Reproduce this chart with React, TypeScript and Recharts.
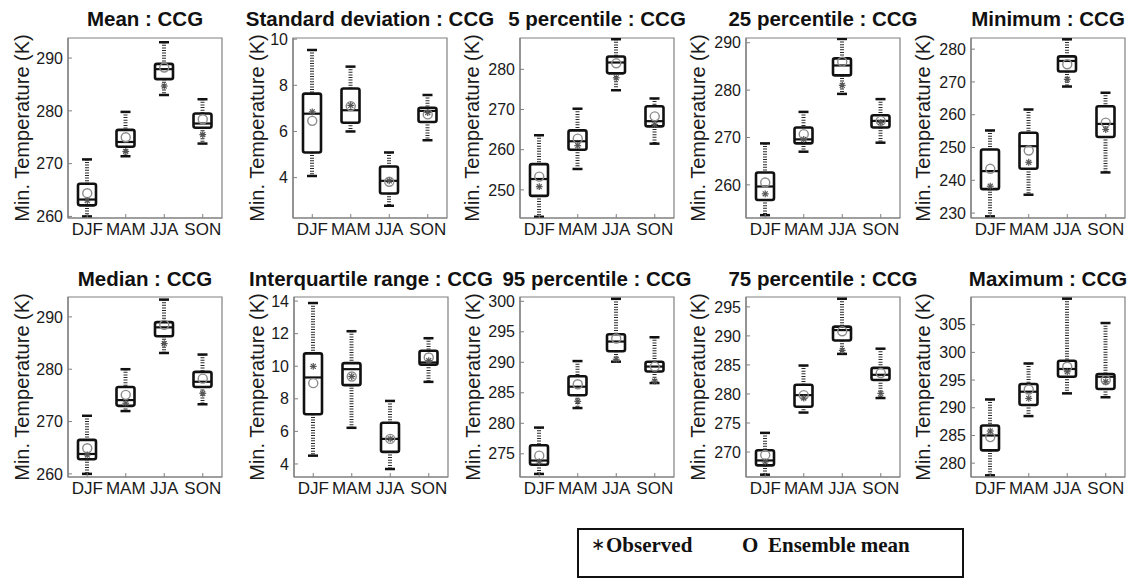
import React from "react";
import { ComposedChart, Bar, Line, XAxis, YAxis, ReferenceArea } from "recharts";

const seasons = ["DJF", "MAM", "JJA", "SON"];

// ---- Mean : CCG
const meanLow = [260.0, 271.4, 283.0, 273.8];
const meanQ1 = [262.1, 273.2, 286.0, 276.8];
const meanMed = [263.2, 274.1, 287.9, 277.6];
const meanQ3 = [266.2, 276.4, 288.9, 279.5];
const meanHigh = [270.8, 279.8, 293.0, 282.2];
const meanEns = [264.4, 275.0, 288.2, 278.4];
const meanObs = [263.0, 272.3, 284.7, 275.5];

// ---- Standard deviation : CCG
const sdLow = [4.07, 6.0, 2.78, 5.62];
const sdQ1 = [5.09, 6.38, 3.31, 6.41];
const sdMed = [6.77, 6.92, 3.86, 6.89];
const sdQ3 = [7.64, 7.86, 4.48, 7.03];
const sdHigh = [9.53, 8.81, 5.09, 7.58];
const sdEns = [6.46, 7.1, 3.82, 6.74];
const sdObs = [6.85, 7.13, 3.86, 6.82];

// ---- 5 percentile : CCG
const p5Low = [243.3, 255.2, 274.8, 261.5];
const p5Q1 = [248.5, 260.0, 279.0, 265.8];
const p5Med = [252.7, 262.1, 281.7, 267.1];
const p5Q3 = [256.4, 264.8, 283.2, 270.8];
const p5High = [263.6, 270.2, 287.5, 272.75];
const p5Ens = [253.3, 262.75, 281.5, 268.3];
const p5Obs = [250.8, 261.0, 277.9, 266.3];

// ---- 25 percentile : CCG
const p25Low = [253.6, 267.0, 279.2, 268.9];
const p25Q1 = [256.8, 268.75, 283.1, 272.1];
const p25Med = [259.65, 269.6, 285.2, 273.5];
const p25Q3 = [262.6, 272.1, 286.7, 274.7];
const p25High = [268.75, 275.4, 290.8, 278.1];
const p25Ens = [260.5, 270.7, 286.0, 273.5];
const p25Obs = [258.1, 269.6, 281.0, 273.2];

// ---- Minimum : CCG
const minLow = [229.0, 235.6, 268.6, 242.4];
const minQ1 = [237.3, 243.5, 273.2, 253.2];
const minMed = [242.8, 250.4, 276.4, 257.2];
const minQ3 = [249.4, 254.5, 277.8, 262.6];
const minHigh = [255.2, 261.6, 283.0, 266.7];
const minEns = [243.5, 249.1, 275.4, 257.6];
const minObs = [238.2, 245.5, 270.8, 255.5];

// ---- Median : CCG
const medLow = [260.0, 272.0, 283.1, 273.3];
const medQ1 = [262.8, 273.0, 286.3, 276.6];
const medMed = [263.8, 274.1, 288.0, 277.6];
const medQ3 = [266.5, 276.6, 289.0, 279.5];
const medHigh = [271.1, 280.0, 293.3, 282.8];
const medEns = [264.9, 275.1, 288.5, 278.2];
const medObs = [263.6, 273.5, 284.9, 275.4];

// ---- Interquartile range : CCG
const iqrLow = [4.51, 6.22, 3.69, 9.04];
const iqrQ1 = [7.05, 8.84, 4.74, 10.09];
const iqrMed = [9.31, 9.82, 5.54, 10.23];
const iqrQ3 = [10.79, 10.19, 6.53, 10.95];
const iqrHigh = [13.88, 12.15, 7.87, 11.72];
const iqrEns = [8.96, 9.37, 5.54, 10.54];
const iqrObs = [9.99, 9.37, 5.54, 10.34];

// ---- 95 percentile : CCG
const p95Low = [271.7, 282.5, 290.1, 286.6];
const p95Q1 = [273.2, 284.6, 291.8, 288.5];
const p95Med = [273.9, 286.0, 293.4, 289.3];
const p95Q3 = [276.4, 287.7, 294.6, 290.1];
const p95High = [279.3, 290.2, 300.4, 294.1];
const p95Ens = [274.7, 286.4, 293.9, 289.3];
const p95Obs = [273.7, 283.6, 290.5, 286.9];

// ---- 75 percentile : CCG
const p75Low = [266.1, 276.8, 286.9, 279.3];
const p75Q1 = [267.7, 277.8, 289.2, 282.4];
const p75Med = [268.55, 279.8, 291.0, 283.3];
const p75Q3 = [270.3, 281.6, 291.6, 284.5];
const p75High = [273.3, 284.9, 296.4, 287.8];
const p75Ens = [269.5, 279.8, 290.8, 283.6];
const p75Obs = [268.3, 279.3, 287.5, 280.1];

// ---- Maximum : CCG
const maxLow = [277.8, 288.5, 292.6, 291.9];
const maxQ1 = [282.3, 290.5, 295.6, 293.4];
const maxMed = [285.0, 292.9, 297.0, 295.6];
const maxQ3 = [286.8, 294.3, 298.5, 296.1];
const maxHigh = [291.5, 298.0, 309.7, 305.3];
const maxEns = [284.7, 293.3, 297.4, 295.0];
const maxObs = [285.8, 291.7, 296.5, 294.7];

// ---- axis ranges and tick labels
const meanDomain = [259.7, 293.8];
const meanTicks = [260, 270, 280, 290];
const sdDomain = [2.25, 10.05];
const sdTicks = [4, 6, 8, 10];
const p5Domain = [243.0, 287.8];
const p5Ticks = [250, 260, 270, 280];
const p25Domain = [253.0, 291.0];
const p25Ticks = [260, 270, 280, 290];
const minDomain = [228.5, 283.4];
const minTicks = [230, 240, 250, 260, 270, 280];
const medDomain = [259.4, 293.8];
const medTicks = [260, 270, 280, 290];
const iqrDomain = [3.2, 14.25];
const iqrTicks = [4, 6, 8, 10, 12, 14];
const p95Domain = [271.2, 300.7];
const p95Ticks = [275, 280, 285, 290, 295, 300];
const p75Domain = [265.7, 296.7];
const p75Ticks = [270, 275, 280, 285, 290, 295];
const maxDomain = [277.5, 310.0];
const maxTicks = [280, 285, 290, 295, 300, 305];

const yLabel = "Min. Temperature (K)";
const legendObserved = "Observed";
const legendEnsemble = "Ensemble mean";

function rows(low: number[], q1: number[], med: number[], q3: number[], high: number[], ens: number[], obs: number[]) {
  return seasons.map((season, i) => ({
    season,
    range: [low[i], high[i]],
    low: low[i],
    q1: q1[i],
    med: med[i],
    q3: q3[i],
    high: high[i],
    ens: ens[i],
    obs: obs[i],
  }));
}

const panels = [
  { title: "Mean : CCG", data: rows(meanLow, meanQ1, meanMed, meanQ3, meanHigh, meanEns, meanObs), domain: meanDomain, ticks: meanTicks, left: 68, top: 38, lab: 46, titleY: 19 },
  { title: "Standard deviation : CCG", data: rows(sdLow, sdQ1, sdMed, sdQ3, sdHigh, sdEns, sdObs), domain: sdDomain, ticks: sdTicks, left: 293, top: 38, lab: 36, titleY: 19 },
  { title: "5 percentile : CCG", data: rows(p5Low, p5Q1, p5Med, p5Q3, p5High, p5Ens, p5Obs), domain: p5Domain, ticks: p5Ticks, left: 520, top: 38, lab: 48, titleY: 19 },
  { title: "25 percentile : CCG", data: rows(p25Low, p25Q1, p25Med, p25Q3, p25High, p25Ens, p25Obs), domain: p25Domain, ticks: p25Ticks, left: 746, top: 38, lab: 48, titleY: 19 },
  { title: "Minimum : CCG", data: rows(minLow, minQ1, minMed, minQ3, minHigh, minEns, minObs), domain: minDomain, ticks: minTicks, left: 971, top: 38, lab: 48, titleY: 19 },
  { title: "Median : CCG", data: rows(medLow, medQ1, medMed, medQ3, medHigh, medEns, medObs), domain: medDomain, ticks: medTicks, left: 68, top: 297, lab: 46, titleY: 279 },
  { title: "Interquartile range : CCG", data: rows(iqrLow, iqrQ1, iqrMed, iqrQ3, iqrHigh, iqrEns, iqrObs), domain: iqrDomain, ticks: iqrTicks, left: 294, top: 297, lab: 37, titleY: 279 },
  { title: "95 percentile : CCG", data: rows(p95Low, p95Q1, p95Med, p95Q3, p95High, p95Ens, p95Obs), domain: p95Domain, ticks: p95Ticks, left: 520, top: 297, lab: 47, titleY: 279 },
  { title: "75 percentile : CCG", data: rows(p75Low, p75Q1, p75Med, p75Q3, p75High, p75Ens, p75Obs), domain: p75Domain, ticks: p75Ticks, left: 746, top: 297, lab: 48, titleY: 279 },
  { title: "Maximum : CCG", data: rows(maxLow, maxQ1, maxMed, maxQ3, maxHigh, maxEns, maxObs), domain: maxDomain, ticks: maxTicks, left: 971, top: 297, lab: 48, titleY: 279 },
];

const FONT = "'Liberation Sans', Arial, Helvetica, sans-serif";
const SERIF = "'Liberation Serif', 'Times New Roman', serif";
const FRAME = "#808080";

const BoxShape = (props: any) => {
  const { x, y, width, height, payload } = props;
  if (x == null || y == null || !payload) return null;
  const top = Math.min(y, y + height);
  const h = Math.abs(height);
  const { low, q1, med, q3, high } = payload;
  const px = (v: number) => top + ((high - v) / (high - low)) * h;
  const cx = x + width / 2;
  const cap = 5;
  return (
    <g>
      <line x1={cx} x2={cx} y1={px(high)} y2={px(q3)} stroke="#2a2a2a" strokeWidth={4} strokeDasharray="1 1.6" />
      <line x1={cx} x2={cx} y1={px(q1)} y2={px(low)} stroke="#2a2a2a" strokeWidth={4} strokeDasharray="1 1.6" />
      <line x1={cx - cap} x2={cx + cap} y1={px(high)} y2={px(high)} stroke="#111" strokeWidth={2.5} />
      <line x1={cx - cap} x2={cx + cap} y1={px(low)} y2={px(low)} stroke="#111" strokeWidth={2.5} />
      <rect x={x} y={px(q3)} width={width} height={px(q1) - px(q3)} fill="#fff" stroke="#111" strokeWidth={2.6} rx={2} />
      <line x1={x} x2={x + width} y1={px(med)} y2={px(med)} stroke="#111" strokeWidth={2.2} />
    </g>
  );
};

const EnsDot = (p: any) => {
  if (p.cx == null || p.cy == null) return <g key={`e${p.index}`} />;
  return <circle key={`e${p.index}`} cx={p.cx} cy={p.cy} r={4.5} fill="none" stroke="#8c8c8c" strokeWidth={1.4} />;
};

const ObsDot = (p: any) => {
  if (p.cx == null || p.cy == null) return <g key={`o${p.index}`} />;
  const r = 3.4;
  const d = r * 0.72;
  return (
    <g key={`o${p.index}`} stroke="#555" strokeWidth={1.2}>
      <line x1={p.cx - r} x2={p.cx + r} y1={p.cy} y2={p.cy} />
      <line x1={p.cx} x2={p.cx} y1={p.cy - r} y2={p.cy + r} />
      <line x1={p.cx - d} x2={p.cx + d} y1={p.cy - d} y2={p.cy + d} />
      <line x1={p.cx - d} x2={p.cx + d} y1={p.cy + d} y2={p.cy - d} />
    </g>
  );
};

const PL = 70;
const PT = 10;
const PW = 154;
const PH = 180;
const CW = PL + PW + 10;
const CH = PT + PH + 35;

function Panel({ def }: { def: any }) {
  const yTickStyle = { fill: "#1a1a1a", fontSize: 16, fontFamily: FONT };
  const xTickStyle = { fill: "#1a1a1a", fontSize: 17, fontFamily: FONT };
  return (
    <>
      <div
        style={{
          position: "absolute",
          left: def.left + PW / 2 - 160,
          width: 320,
          top: def.titleY - 12,
          height: 24,
          lineHeight: "24px",
          textAlign: "center",
          fontFamily: FONT,
          fontWeight: "bold",
          fontSize: 20.5,
          color: "#111",
          whiteSpace: "nowrap",
        }}
      >
        {def.title}
      </div>
      <div
        style={{
          position: "absolute",
          left: def.left - def.lab,
          top: def.top + PH / 2,
          transform: "translate(-50%, -50%) rotate(-90deg)",
          fontFamily: FONT,
          fontSize: 20,
          color: "#1a1a1a",
          whiteSpace: "nowrap",
          lineHeight: "20px",
        }}
      >
        {yLabel}
      </div>
      <div style={{ position: "absolute", left: def.left - PL, top: def.top - PT, width: CW, height: CH }}>
        <ComposedChart width={CW} height={CH} data={def.data} margin={{ top: PT, right: 10, bottom: 5, left: 0 }}>
          <XAxis
            dataKey="season"
            height={30}
            interval={0}
            tickSize={-4}
            tickMargin={9}
            axisLine={{ stroke: FRAME, strokeWidth: 1.2 }}
            tickLine={{ stroke: FRAME }}
            tick={xTickStyle}
          />
          <YAxis
            type="number"
            domain={def.domain}
            ticks={def.ticks}
            allowDataOverflow
            interval={0}
            width={PL}
            tickSize={-4}
            tickMargin={9}
            axisLine={{ stroke: FRAME, strokeWidth: 1.2 }}
            tickLine={{ stroke: FRAME }}
            tick={yTickStyle}
          />
          <ReferenceArea
            x1="DJF"
            x2="SON"
            y1={def.domain[0]}
            y2={def.domain[1]}
            fill="none"
            fillOpacity={0}
            stroke={FRAME}
            strokeWidth={1.2}
            ifOverflow="visible"
          />
          <Bar dataKey="range" barSize={18} shape={BoxShape} isAnimationActive={false} />
          <Line dataKey="ens" stroke="none" dot={EnsDot} activeDot={false} isAnimationActive={false} />
          <Line dataKey="obs" stroke="none" dot={ObsDot} activeDot={false} isAnimationActive={false} />
        </ComposedChart>
      </div>
    </>
  );
}

const legendText = {
  position: "absolute" as const,
  top: 533,
  fontFamily: SERIF,
  fontWeight: "bold" as const,
  fontSize: 21,
  color: "#111",
  whiteSpace: "nowrap" as const,
  lineHeight: "24px",
};

export default function App() {
  return (
    <div style={{ position: "absolute", left: 0, top: 0, width: 1128, height: 580, background: "#fff", overflow: "hidden" }}>
      {panels.map((p) => (
        <Panel key={p.title} def={p} />
      ))}
      <div
        style={{
          position: "absolute",
          left: 577,
          top: 528,
          width: 387,
          height: 50,
          border: "2px solid #111",
          boxSizing: "border-box",
        }}
      />
      <div style={{ ...legendText, left: 591, fontSize: 17, fontWeight: "normal", top: 533 }}>∗</div>
      <div style={{ ...legendText, left: 606 }}>{legendObserved}</div>
      <div style={{ ...legendText, left: 742 }}>O</div>
      <div style={{ ...legendText, left: 768 }}>{legendEnsemble}</div>
    </div>
  );
}
